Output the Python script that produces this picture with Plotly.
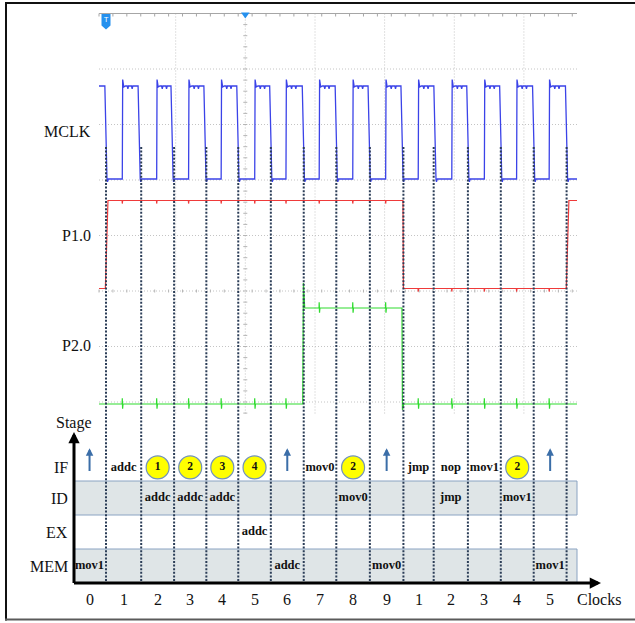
import plotly.graph_objects as go

W, H = 635, 623

# ---------------- data ----------------
# time unit: one MCLK period, t = 0 at the trigger / first falling edge
MCLK_FALL = [0.0, 1.01, 2.01, 3.01, 4.01, 5.01, 6.0, 7.0, 8.0, 9.0, 10.0, 11.0, 12.0, 13.0, 14.0]
MCLK_RISE = [0.495, 1.54, 2.51, 3.5, 4.52, 5.47, 6.48, 7.5, 8.5, 9.49, 10.51, 11.5, 12.48, 13.47]
MCLK_START = 1

P1_TOGGLES = [0.0, 9.03, 14.01]
P1_START = 0
P2_TOGGLES = [5.99, 9.0]
P2_START = 0

# hand-drawn clock-cycle dotted lines
CLOCK_LINES = [0.0, 1.07, 2.07, 3.05, 4.02, 5.01, 6.01, 7.0, 8.02, 9.04, 9.96, 11.0, 12.0, 13.0, 14.0]
CLOCK_LABELS = ["0", "1", "2", "3", "4", "5", "6", "7", "8", "9", "1", "2", "3", "4", "5"]

SIGNAL_NAMES = ["MCLK", "P1.0", "P2.0"]
STAGES = ["MEM", "EX", "ID", "IF"]
IF_ROW = ["^", "addc", "1", "2", "3", "4", "^", "mov0", "2", "^", "jmp", "nop", "mov1", "2", "^"]
ID_ROW = ["", "", "addc", "addc", "addc", "", "", "", "mov0", "", "", "jmp", "", "mov1", ""]
EX_ROW = ["", "", "", "", "", "addc", "", "", "", "", "", "", "", "", ""]
MEM_ROW = ["mov1", "", "", "", "", "", "addc", "", "", "mov0", "", "", "", "", "mov1"]

# ---------------- layout helpers (pixel geometry) ----------------
T0_PX, PERIOD_PX = 106.0, 32.9
def tpx(px):
    return (px - T0_PX) / PERIOD_PX

ROW0_PX, ROW_PX = 566.0, 34.0
def rpx(py):
    return (ROW0_PX - py) / ROW_PX

def yrange(px_low, px_high):
    s = px_low - px_high
    return [(px_low - H) / s, px_low / s]

def px(x):
    return x / W

def py(y):
    return 1 - y / H

SCOPE_L, SCOPE_R, SCOPE_T, SCOPE_B = 99.0, 577.0, 13.5, 415.0
t_left, t_right = tpx(SCOPE_L), tpx(SCOPE_R)

# waveform shape templates (offset in periods, level)
RISE_SHAPE = [(0.0, 0.0), (0.012, 1.07), (0.045, 0.99), (0.1, 1.0), (0.15, 1.0), (0.17, 0.97),
              (0.19, 1.0), (0.28, 1.0), (0.30, 0.97), (0.32, 1.0)]
FALL_SHAPE = [(-0.035, 1.0), (0.03, 0.0), (0.045, -0.03), (0.07, 0.0)]


def build_mclk():
    xs, ys = [t_left], [MCLK_START]
    events = sorted([(t, "f") for t in MCLK_FALL] + [(t, "r") for t in MCLK_RISE])
    for t, kind in events:
        shape = FALL_SHAPE if kind == "f" else RISE_SHAPE
        for dt, v in shape:
            xs.append(t + dt)
            ys.append(v)
    xs.append(t_right)
    ys.append(ys[-1])
    return xs, ys


def build_logic(start, toggles, glitch_times, glitch, up_shape, down_shape):
    lvl = start
    xs, ys = [t_left], [lvl]
    events = sorted([(t, "g") for t in glitch_times] + [(t, "t") for t in toggles])
    for t, kind in events:
        if kind == "t":
            shape = up_shape if lvl == 0 else down_shape
            lvl = 1 - lvl
            for dt, v in shape:
                xs.append(t + dt)
                ys.append(v)
        else:
            if any(abs(t - tt) < 0.08 for tt in toggles):
                continue
            for dt, dv in glitch:
                xs.append(t + dt)
                ys.append(lvl + dv)
    xs.append(t_right)
    ys.append(lvl)
    return xs, ys


fig = go.Figure()

# ---------- scope traces ----------
mx, my = build_mclk()
fig.add_trace(go.Scatter(x=mx, y=my, mode="lines", line=dict(color="#3b43e8", width=1.3),
                         xaxis="x", yaxis="y", hoverinfo="skip"))

p1x, p1y = build_logic(P1_START, P1_TOGGLES, MCLK_RISE,
                       [(-0.006, 0.0), (0.0, -0.035), (0.012, 0.0)],
                       [(-0.02, 0.0), (0.06, 1.0)], [(-0.004, 1.0), (0.01, 0.0)])
fig.add_trace(go.Scatter(x=p1x, y=p1y, mode="lines", line=dict(color="#ef3a3a", width=1.2),
                         xaxis="x", yaxis="y2", hoverinfo="skip"))

p2x, p2y = build_logic(P2_START, P2_TOGGLES, MCLK_RISE,
                       [(-0.005, 0.0), (0.0, 0.06), (0.01, -0.05), (0.022, 0.0)],
                       [(-0.01, 0.0), (0.01, 1.26), (0.05, 1.0)],
                       [(-0.004, 1.0), (0.01, -0.06), (0.05, 0.0)])
fig.add_trace(go.Scatter(x=p2x, y=p2y, mode="lines", line=dict(color="#2edc2e", width=1.2),
                         xaxis="x", yaxis="y3", hoverinfo="skip"))

# ---------- clock dotted lines ----------
cx, cy = [], []
for t in CLOCK_LINES:
    cx += [t, t, None]
    cy += [rpx(147), rpx(583), None]
fig.add_trace(go.Scatter(x=cx, y=cy, mode="lines", xaxis="x", yaxis="y4", hoverinfo="skip",
                         line=dict(color="#2b3d57", width=2, dash="2px,1.6px")))

# ---------- pipeline table ----------
def col_center(c):
    if c == 0:
        return CLOCK_LINES[0] - 0.5
    return (CLOCK_LINES[c - 1] + CLOCK_LINES[c]) / 2

STAGE_POS = {"MEM": 0.0, "EX": 1.0, "ID": 2.0, "IF": 2.9}
rows = {"IF": IF_ROW, "ID": ID_ROW, "EX": EX_ROW, "MEM": MEM_ROW}

tx, ty, tt = [], [], []
ox, oy, ot = [], [], []
arrows = []
for st, row in rows.items():
    for c, item in enumerate(row):
        if not item:
            continue
        if item == "^":
            arrows.append((col_center(c), STAGE_POS[st]))
        elif item.isdigit():
            ox.append(col_center(c)); oy.append(STAGE_POS[st]); ot.append(item)
        else:
            tx.append(col_center(c)); ty.append(STAGE_POS[st]); tt.append(item)

fig.add_trace(go.Scatter(x=tx, y=ty, text=tt, mode="text", xaxis="x", yaxis="y4", hoverinfo="skip",
                         textfont=dict(family="Liberation Serif", size=12.5, color="#111111",
                                       weight="bold")))
fig.add_trace(go.Scatter(x=ox, y=oy, text=ot, mode="markers+text", xaxis="x", yaxis="y4",
                         hoverinfo="skip", textposition="middle center",
                         marker=dict(size=23, color="#ffff00", line=dict(color="#7393b9", width=1.2)),
                         textfont=dict(family="Liberation Serif", size=11.5, color="#111111",
                                       weight="bold")))

shapes = []
# bands ID and MEM
for st in ["ID", "MEM"]:
    shapes.append(dict(type="rect", xref="x", yref="y4", x0=tpx(74), x1=tpx(SCOPE_R),
                       y0=STAGE_POS[st] - 0.5, y1=STAGE_POS[st] + 0.5,
                       fillcolor="#dfe5e7", line=dict(color="#8aa3c2", width=1), layer="below"))

# scope graticule
GRID_H = [69.0, 124.5, 180.0, 235.5, 291.0, 346.5, 402.0]
GRID_V = [175.7, 245.3, 315.0, 384.6, 454.3, 523.9]
for gy in GRID_H:
    shapes.append(dict(type="line", xref="paper", yref="paper", x0=px(SCOPE_L), x1=px(SCOPE_R),
                       y0=py(gy), y1=py(gy), line=dict(color="#c4c4c4", width=1, dash="1px,2px"),
                       layer="below"))
for gx in GRID_V:
    shapes.append(dict(type="line", xref="paper", yref="paper", x0=px(gx), x1=px(gx),
                       y0=py(SCOPE_T), y1=py(SCOPE_B), line=dict(color="#c4c4c4", width=1, dash="1px,2px"),
                       layer="below"))
shapes.append(dict(type="line", xref="paper", yref="paper", x0=px(SCOPE_L), x1=px(SCOPE_R),
                   y0=py(SCOPE_T), y1=py(SCOPE_T), line=dict(color="#a6a6a6", width=1), layer="below"))
k = 0
while SCOPE_L + 13.92 * k <= SCOPE_R:
    xx = SCOPE_L + 13.92 * k
    shapes.append(dict(type="line", xref="paper", yref="paper", x0=px(xx), x1=px(xx),
                       y0=py(SCOPE_T), y1=py(SCOPE_T + 3), line=dict(color="#a6a6a6", width=1),
                       layer="below"))
    shapes.append(dict(type="line", xref="paper", yref="paper", x0=px(xx), x1=px(xx),
                       y0=py(289.5), y1=py(292.5), line=dict(color="#b5b5b5", width=1),
                       layer="below"))
    k += 1
k = 1
while SCOPE_T + 11.1 * k <= SCOPE_B:
    yy = SCOPE_T + 11.1 * k
    shapes.append(dict(type="line", xref="paper", yref="paper", x0=px(243.3), x1=px(247.3),
                       y0=py(yy), y1=py(yy), line=dict(color="#b5b5b5", width=1), layer="below"))
    k += 1

# trigger marker and center marker
shapes.append(dict(type="path", xref="paper", yref="paper",
                   path="M {a},{b} L {c},{b} L {c},{d} L {e},{f} L {a},{d} Z".format(
                       a=px(101.5), c=px(110.5), b=py(14), d=py(25.5), e=px(106), f=py(29.5)),
                   fillcolor="#2490ee", line=dict(width=0)))
shapes.append(dict(type="path", xref="paper", yref="paper",
                   path="M {a},{b} L {c},{b} L {e},{f} Z".format(
                       a=px(241), c=px(249.6), b=py(12.5), e=px(245.3), f=py(18.5)),
                   fillcolor="#2490ee", line=dict(width=0)))

# outer frame
shapes.append(dict(type="line", xref="paper", yref="paper", x0=px(5), x1=1, y0=py(3), y1=py(3),
                   line=dict(color="#111111", width=2)))
shapes.append(dict(type="line", xref="paper", yref="paper", x0=px(6), x1=px(6), y0=py(2), y1=py(620.5),
                   line=dict(color="#111111", width=2)))
shapes.append(dict(type="line", xref="paper", yref="paper", x0=px(5), x1=1, y0=py(619.5), y1=py(619.5),
                   line=dict(color="#5a5a5a", width=2)))

# ---------- annotations ----------
ann = []
SERIF = "Liberation Serif"
label_y = [131.0, 235.5, 345.7]
for name, yy in zip(SIGNAL_NAMES, label_y):
    ann.append(dict(text=name, xref="paper", yref="paper", x=px(93), y=py(yy), xanchor="right",
                    yanchor="middle", showarrow=False, font=dict(family=SERIF, size=16, color="#111")))
ann.append(dict(text="T", xref="paper", yref="paper", x=px(106), y=py(20), showarrow=False,
                xanchor="center", yanchor="middle",
                font=dict(family="DejaVu Sans", size=7, color="white")))
for st in STAGES:
    ann.append(dict(text=st, xref="paper", yref="y4", x=px(69.5), y=STAGE_POS[st], xanchor="right",
                    yanchor="middle", showarrow=False, font=dict(family=SERIF, size=16, color="#111")))
ann.append(dict(text="Stage", xref="paper", yref="paper", x=px(74), y=py(423), showarrow=False,
                xanchor="center", yanchor="middle",
                font=dict(family=SERIF, size=16, color="#111")))
ann.append(dict(text="Clocks", xref="paper", yref="paper", x=px(575), y=py(599), xanchor="left",
                yanchor="middle", showarrow=False, font=dict(family=SERIF, size=16, color="#111")))
for c, lab in enumerate(CLOCK_LABELS):
    ann.append(dict(text=lab, xref="x", yref="y4", x=col_center(c), y=rpx(599), showarrow=False,
                    xanchor="center", yanchor="middle",
                    font=dict(family=SERIF, size=16, color="#111")))
# stage / clock axes
ann.append(dict(text="", x=tpx(74), y=rpx(432), ax=tpx(74), ay=rpx(584.5), xref="x", yref="y4",
                axref="x", ayref="y4", showarrow=True, arrowhead=2, arrowsize=0.75, arrowwidth=3,
                arrowcolor="#000000", standoff=0))
ann.append(dict(text="", x=tpx(601), y=rpx(583), ax=tpx(72.5), ay=rpx(583), xref="x", yref="y4",
                axref="x", ayref="y4", showarrow=True, arrowhead=2, arrowsize=0.75, arrowwidth=3,
                arrowcolor="#000000", standoff=0))
# fetch arrows
for (ax_, ay_) in arrows:
    ann.append(dict(text="", x=ax_, y=ay_ + 0.56, ax=ax_, ay=ay_ - 0.15, xref="x", yref="y4",
                    axref="x", ayref="y4", showarrow=True, arrowhead=2, arrowsize=0.75, arrowwidth=2,
                    arrowcolor="#3b6ea8", standoff=0))

hidden = dict(visible=False, fixedrange=True)
fig.update_layout(
    width=W, height=H, margin=dict(l=0, r=0, t=0, b=0),
    paper_bgcolor="white", plot_bgcolor="white", showlegend=False,
    xaxis=dict(range=[tpx(0), tpx(W)], domain=[0, 1], **hidden),
    yaxis=dict(range=yrange(179, 86), domain=[0, 1], **hidden),
    yaxis2=dict(range=yrange(288.5, 200.5), overlaying="y", **hidden),
    yaxis3=dict(range=yrange(404, 308), overlaying="y", **hidden),
    yaxis4=dict(range=[rpx(H), rpx(0)], overlaying="y", **hidden),
    shapes=shapes, annotations=ann,
)

fig.write_html("out.html", config=dict(displayModeBar=False),
               post_script="document.body.style.margin='0';document.body.style.overflow='hidden';")
